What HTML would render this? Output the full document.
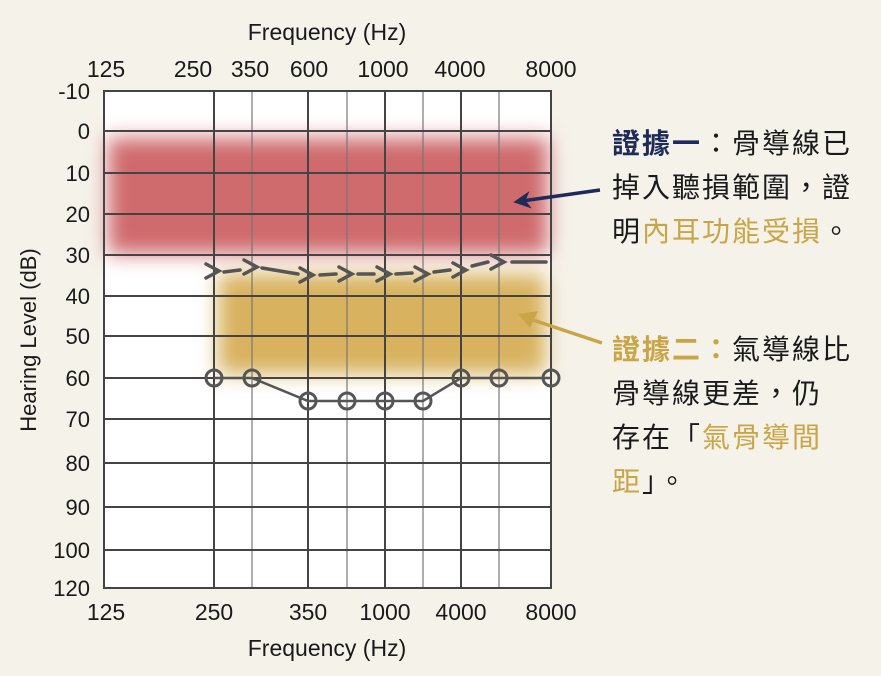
<!DOCTYPE html>
<html><head><meta charset="utf-8"><style>
body{margin:0;background:#f5f2ea;}
.t{position:absolute;font-family:"Liberation Sans","Noto Sans CJK TC",sans-serif;font-size:28px;color:#1a1a1a;left:612px;line-height:44px;white-space:nowrap;letter-spacing:2px}
.b{color:#1e2a5a;font-weight:bold}.g{color:#c9a548}
</style></head><body>
<svg width="881" height="676" style="position:absolute;left:0;top:0" font-family="Liberation Sans, sans-serif">
<defs>
<filter id="bl" x="-20%" y="-30%" width="140%" height="160%"><feGaussianBlur stdDeviation="10"/></filter>
<marker id="ah" viewBox="0 0 10 10" refX="5" refY="5" markerWidth="5" markerHeight="5" orient="auto"><path d="M0,0L10,5L0,10L3,5z" fill="#1e2a5a"/></marker>
</defs>
<rect x="104" y="91" width="447" height="497" fill="#fff"/>
<rect x="108" y="138" width="440" height="116" fill="#cf6b6d" filter="url(#bl)"/>
<rect x="218" y="274" width="328" height="100" fill="#d8b25e" filter="url(#bl)"/>
<g stroke="#444" stroke-width="2">
<line x1="214" y1="91" x2="214" y2="588"/><line x1="308" y1="91" x2="308" y2="588"/><line x1="385" y1="91" x2="385" y2="588"/><line x1="461" y1="91" x2="461" y2="588"/>
</g>
<g stroke="#777" stroke-width="1.2">
<line x1="252" y1="91" x2="252" y2="588"/><line x1="347" y1="91" x2="347" y2="588"/><line x1="423" y1="91" x2="423" y2="588"/><line x1="499" y1="91" x2="499" y2="588"/>
</g>
<g stroke="#444" stroke-width="2">
<line x1="104" y1="131" x2="551" y2="131"/><line x1="104" y1="173" x2="551" y2="173"/><line x1="104" y1="214" x2="551" y2="214"/><line x1="104" y1="255" x2="551" y2="255"/><line x1="104" y1="296" x2="551" y2="296"/><line x1="104" y1="336" x2="551" y2="336"/><line x1="104" y1="378" x2="551" y2="378"/><line x1="104" y1="419" x2="551" y2="419"/><line x1="104" y1="463" x2="551" y2="463"/><line x1="104" y1="507" x2="551" y2="507"/><line x1="104" y1="550" x2="551" y2="550"/>
<rect x="104" y="91" width="447" height="497" fill="none"/>
</g>
<g stroke="#555" stroke-width="3.5" fill="none" stroke-linecap="round">
<path d="M224,272 L240,270 M262,268 L298,274 M320,275 L336,274 M358,274 L374,274 M396,274 L412,273 M434,272 L450,270 M472,266 L488,262 M512,262 L546,262"/>
<path d="M206,264 L219,271 L206,278 M244,260 L257,267 L244,274 M300,268 L313,275 L300,282 M339,267 L352,274 L339,281 M377,267 L390,274 L377,281 M415,267 L428,274 L415,281 M453,263 L466,270 L453,277 M491,255 L504,262 L491,269"/>
</g>
<polyline points="214,378 252,378 308,401 347,401 385,401 423,401 461,378 499,378 551,378" fill="none" stroke="#555" stroke-width="2.5"/>
<g fill="none" stroke="#555" stroke-width="3">
<circle cx="214" cy="378" r="8"/><circle cx="252" cy="378" r="8"/><circle cx="308" cy="401" r="8"/><circle cx="347" cy="401" r="8"/><circle cx="385" cy="401" r="8"/><circle cx="423" cy="401" r="8"/><circle cx="461" cy="378" r="8"/><circle cx="499" cy="378" r="8"/><circle cx="551" cy="378" r="8"/>
</g>
<line x1="600" y1="190" x2="522" y2="201" stroke="#1e2a5a" stroke-width="3.5" marker-end="url(#ah)"/>
<line x1="602" y1="343" x2="524" y2="317" stroke="#c9a548" stroke-width="3.5"/>
<path d="M518,314 L538,311 L530,328z" fill="#c9a548"/>
<g font-size="23" fill="#1a1a1a" text-anchor="middle">
<text x="327" y="40">Frequency (Hz)</text>
<text x="106" y="77">125</text><text x="193" y="77">250</text><text x="250" y="77">350</text><text x="309" y="77">600</text><text x="383" y="77">1000</text><text x="460" y="77">4000</text><text x="551" y="77">8000</text>
<text x="106" y="620">125</text><text x="214" y="620">250</text><text x="308" y="620">350</text><text x="385" y="620">1000</text><text x="461" y="620">4000</text><text x="551" y="620">8000</text>
<text x="327" y="656">Frequency (Hz)</text>
</g>
<g font-size="22" fill="#1a1a1a" text-anchor="end">
<text x="90" y="99">-10</text><text x="90" y="139">0</text><text x="90" y="181">10</text><text x="90" y="222">20</text><text x="90" y="263">30</text><text x="90" y="304">40</text><text x="90" y="344">50</text><text x="90" y="386">60</text><text x="90" y="427">70</text><text x="90" y="471">80</text><text x="90" y="515">90</text><text x="90" y="558">100</text><text x="90" y="596">120</text>
</g>
<text transform="translate(36,340) rotate(-90)" font-size="22" text-anchor="middle" fill="#1a1a1a">Hearing Level (dB)</text>
</svg>
<div class="t" style="top:122px"><span class="b">證據一</span>：骨導線已<br>掉入聽損範圍，證<br>明<span class="g">內耳功能受損</span>。</div>
<div class="t" style="top:328px"><span class="g" style="font-weight:bold">證據二：</span>氣導線比<br>骨導線更差，仍<br>存在「<span class="g">氣骨導間</span><br><span class="g">距</span>」。</div>
</body></html>
